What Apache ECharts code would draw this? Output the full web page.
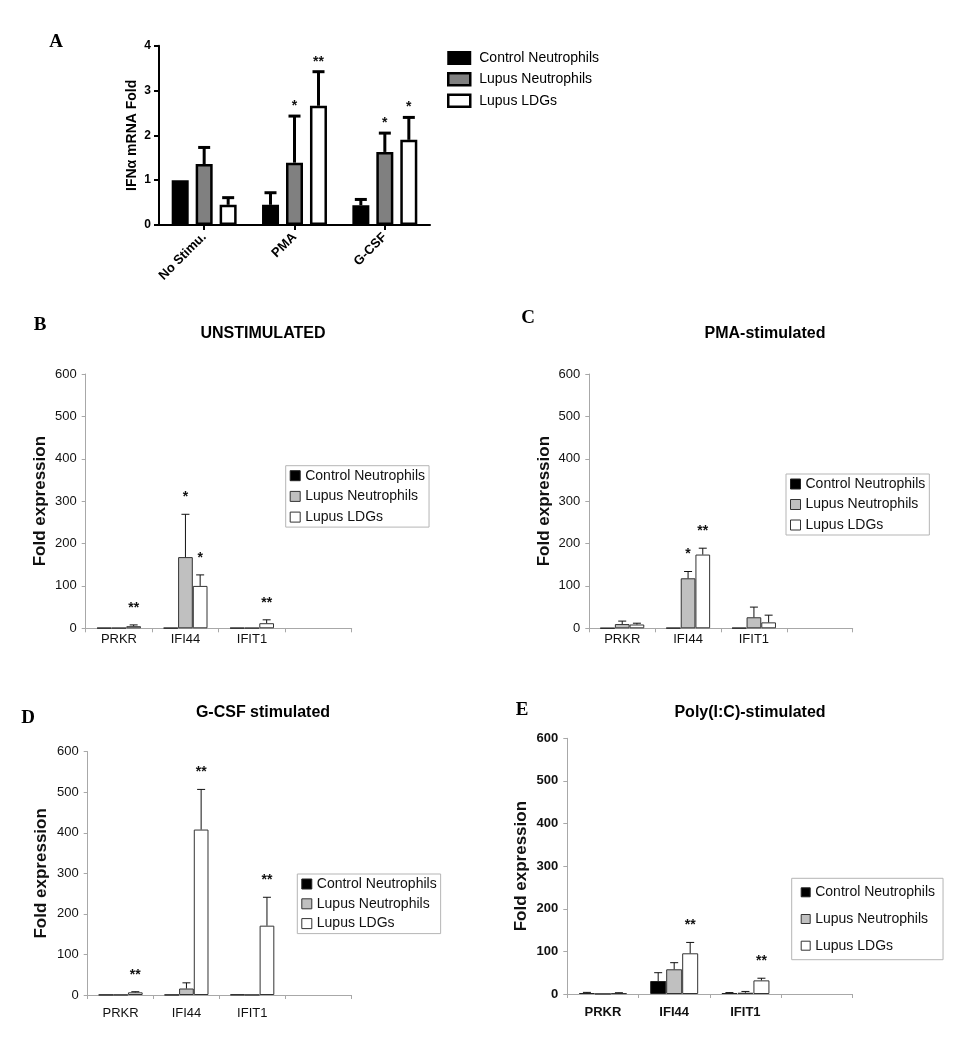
<!DOCTYPE html>
<html><head><meta charset="utf-8">
<script src="https://cdn.jsdelivr.net/npm/echarts@6/dist/echarts.min.js"></script>
<style>html,body{margin:0;padding:0;background:#fff}#c{width:966px;height:1050px}</style>
</head><body><div id="c"></div>
<script>
// ---------- DATA ----------
const groupNames = ['Control Neutrophils', 'Lupus Neutrophils', 'Lupus LDGs'];

// Panel A: IFNα mRNA fold
const catsA = ['No Stimu.', 'PMA', 'G-CSF'];
const ticksA = [0, 1, 2, 3, 4];
const aControl = [1.0, 0.45, 0.44];
const aControlErr = [0, 0.27, 0.13];
const aLupus = [1.36, 1.39, 1.63];
const aLupusErr = [0.37, 1.04, 0.42];
const aLDG = [0.45, 2.66, 1.90];
const aLDGErr = [0.16, 0.76, 0.50];
const aControlSig = ['', '', ''];
const aLupusSig = ['', '*', '*'];
const aLDGSig = ['', '**', '*'];

// Panels B-E: fold expression
const genes = ['PRKR', 'IFI44', 'IFIT1', ''];
const ticksFold = [0, 100, 200, 300, 400, 500, 600];

// B: UNSTIMULATED
const bControl = [1, 1, 1];
const bControlErr = [0, 0, 0];
const bLupus = [1, 168, 1];
const bLupusErr = [0, 101, 0];
const bLDG = [5, 100, 12];
const bLDGErr = [3, 26, 8];
const bControlSig = ['', '', ''];
const bLupusSig = ['', '*', ''];
const bLDGSig = ['**', '*', '**'];

// C: PMA-stimulated
const cControl = [0.5, 1, 1];
const cControlErr = [0, 0, 0];
const cLupus = [10, 118, 26];
const cLupusErr = [7, 16, 24];
const cLDG = [9, 174, 14];
const cLDGErr = [3, 15, 17];
const cControlSig = ['', '', ''];
const cLupusSig = ['', '*', ''];
const cLDGSig = ['', '**', ''];

// D: G-CSF stimulated
const dControl = [0.5, 0.5, 1];
const dControlErr = [0, 0, 0];
const dLupus = [0.5, 16, 0.5];
const dLupusErr = [0, 14, 0];
const dLDG = [6.6, 408, 171];
const dLDGErr = [1.5, 99, 70];
const dControlSig = ['', '', ''];
const dLupusSig = ['', '', ''];
const dLDGSig = ['**', '**', '**'];

// E: Poly(I:C)-stimulated
const eControl = [2.3, 30.5, 2.3];
const eControlErr = [1.5, 19.5, 1];
const eLupus = [0.5, 58, 3];
const eLupusErr = [0, 15.5, 3];
const eLDG = [2, 95.5, 32];
const eLDGErr = [1, 25.5, 5];
const eControlSig = ['', '', ''];
const eLupusSig = ['', '', ''];
const eLDGSig = ['', '**', '**'];

// ---------- STYLE / BUILD ----------
const SANS = 'Liberation Sans, Arial, sans-serif';
const SERIF = 'Liberation Serif, Times New Roman, serif';
const GRAY_AXIS = '#a8a8a8';

const styleA = {
  bw: 17, gapPct: '41%', step: 24, cap: 6, lw: 3, color: '#000', starOff: 3, starFont: 'bold 14px ' + SANS,
  items: [
    { color: '#000', borderColor: '#000', borderWidth: 2 },
    { color: '#808080', borderColor: '#000', borderWidth: 2.5 },
    { color: '#fff', borderColor: '#000', borderWidth: 2.5 }
  ]
};
function styleFold(bw) {
  return {
    bw: bw, gapPct: '0%', step: bw, cap: 4, lw: 1, color: '#111', starOff: 10, starFont: 'bold 14px ' + SANS,
    items: [
      { color: '#000', borderColor: '#222', borderWidth: 1 },
      { color: '#c0c0c0', borderColor: '#333', borderWidth: 1 },
      { color: '#fff', borderColor: '#333', borderWidth: 1 }
    ]
  };
}

function barSeries(k, gi, vals, st) {
  return {
    type: 'bar', name: groupNames[gi], xAxisIndex: k, yAxisIndex: k, data: vals,
    barWidth: st.bw, barGap: st.gapPct, itemStyle: st.items[gi], silent: true
  };
}
function errSeries(k, gi, means, errs, sigs, st) {
  return {
    type: 'custom', xAxisIndex: k, yAxisIndex: k, z: 10, silent: true,
    data: means.map((m, i) => [i, m, errs[i]]),
    renderItem: function (params, api) {
      const i = api.value(0), m = api.value(1), e = api.value(2);
      const p0 = api.coord([i, m]);
      const x = p0[0] + (gi - 1) * st.step;
      const yTop = api.coord([i, m + e])[1];
      const ch = [];
      if (e > 0) {
        ch.push({ type: 'line', shape: { x1: x, y1: p0[1], x2: x, y2: yTop }, style: { stroke: st.color, lineWidth: st.lw } });
        ch.push({ type: 'line', shape: { x1: x - st.cap, y1: yTop, x2: x + st.cap, y2: yTop }, style: { stroke: st.color, lineWidth: st.lw } });
      }
      const s = sigs[params.dataIndex];
      if (s) ch.push({ type: 'text', x: x, y: yTop - st.starOff, style: { text: s, fill: '#111', font: st.starFont, align: 'center', verticalAlign: 'bottom' } });
      return { type: 'group', children: ch };
    }
  };
}
function panelSeries(k, means, errs, sigs, st) {
  const out = [];
  for (let g = 0; g < 3; g++) out.push(barSeries(k, g, means[g], st));
  for (let g = 0; g < 3; g++) out.push(errSeries(k, g, means[g], errs[g], sigs[g], st));
  return out;
}

const grids = [
  { left: 159, top: 45.7, width: 271, height: 179.3 },
  { left: 85.7, top: 374, width: 266, height: 254.3 },
  { left: 589.3, top: 374, width: 263.4, height: 254.3 },
  { left: 87.7, top: 751.7, width: 263.3, height: 243.3 },
  { left: 567.3, top: 738.3, width: 285, height: 255.7 }
];

function foldX(k, margin, bold) {
  return {
    type: 'category', gridIndex: k, data: genes,
    axisLine: { lineStyle: { color: GRAY_AXIS, width: 1 } },
    axisTick: { show: true, length: 4, lineStyle: { color: GRAY_AXIS } },
    axisLabel: { fontSize: 13, fontFamily: SANS, color: '#111', margin: margin, fontWeight: bold ? 'bold' : 'normal', interval: 0 }
  };
}
function foldY(k, bold, gap) {
  return {
    type: 'value', gridIndex: k, min: ticksFold[0], max: ticksFold[ticksFold.length - 1], interval: ticksFold[1] - ticksFold[0],
    axisLine: { show: true, lineStyle: { color: GRAY_AXIS, width: 1 } },
    axisTick: { show: true, length: 4, lineStyle: { color: GRAY_AXIS } },
    axisLabel: { fontSize: 13, fontFamily: SANS, color: '#111', margin: 9, fontWeight: bold ? 'bold' : 'normal' },
    splitLine: { show: false },
    name: 'Fold expression', nameLocation: 'middle', nameRotate: 90, nameGap: gap,
    nameTextStyle: { fontSize: 17, fontWeight: 'bold', fontFamily: SANS, color: '#111' }
  };
}

const xAxes = [
  {
    type: 'category', gridIndex: 0, data: catsA,
    axisLine: { lineStyle: { color: '#000', width: 2 } },
    axisTick: { show: true, alignWithLabel: true, length: 5, lineStyle: { color: '#000', width: 2 } },
    axisLabel: { rotate: 45, fontSize: 13, fontWeight: 'bold', fontFamily: SANS, color: '#000', margin: 10, interval: 0 }
  },
  foldX(1, 5, false), foldX(2, 5, false), foldX(3, 12, false), foldX(4, 12, true)
];
const yAxes = [
  {
    type: 'value', gridIndex: 0, min: ticksA[0], max: ticksA[ticksA.length - 1], interval: ticksA[1] - ticksA[0],
    axisLine: { show: true, lineStyle: { color: '#000', width: 2 } },
    axisTick: { show: true, length: 5, lineStyle: { color: '#000', width: 2 } },
    axisLabel: { fontSize: 12, fontWeight: 'bold', fontFamily: SANS, color: '#000', margin: 8 },
    splitLine: { show: false },
    name: 'IFNα mRNA Fold', nameLocation: 'middle', nameRotate: 90, nameGap: 20,
    nameTextStyle: { fontSize: 14, fontWeight: 'bold', fontFamily: SANS, color: '#000' }
  },
  foldY(1, false, 37), foldY(2, false, 36), foldY(3, false, 37.5), foldY(4, true, 37)
];

function legendData(st) {
  return groupNames.map((n, i) => ({ name: n, itemStyle: st.items[i] }));
}
const stF = styleFold(14.7);
function boxLegend(left, top, pad, gap, isz) {
  return {
    orient: 'vertical', left: left, top: top, padding: pad, itemGap: gap, itemWidth: isz, itemHeight: isz,
    icon: 'rect', selectedMode: false, backgroundColor: '#fff', borderColor: '#b5b5b5', borderWidth: 1,
    textStyle: { fontSize: 14, fontFamily: SANS, color: '#111' },
    data: legendData(stF)
  };
}

const legends = [
  {
    orient: 'vertical', left: 447, top: 51, padding: 0, itemGap: 7, itemWidth: 22, itemHeight: 12,
    icon: 'rect', selectedMode: false,
    textStyle: { fontSize: 14, fontFamily: SANS, color: '#000', padding: [0, 0, 0, 4] },
    data: legendData(styleA)
  },
  boxLegend(285.7, 465.7, [3, 4, 3, 4], 6.7, 10),
  boxLegend(786, 474, [3, 4, 3, 4], 6.5, 10),
  boxLegend(297.3, 874, [3, 4, 3, 4], 5.8, 10),
  boxLegend(791.7, 878.3, [7, 8, 7, 9], 12.7, 9)
];

const series = [].concat(
  panelSeries(0, [aControl, aLupus, aLDG], [aControlErr, aLupusErr, aLDGErr], [aControlSig, aLupusSig, aLDGSig], styleA),
  panelSeries(1, [bControl, bLupus, bLDG], [bControlErr, bLupusErr, bLDGErr], [bControlSig, bLupusSig, bLDGSig], styleFold(14.7)),
  panelSeries(2, [cControl, cLupus, cLDG], [cControlErr, cLupusErr, cLDGErr], [cControlSig, cLupusSig, cLDGSig], styleFold(14.7)),
  panelSeries(3, [dControl, dLupus, dLDG], [dControlErr, dLupusErr, dLDGErr], [dControlSig, dLupusSig, dLDGSig], styleFold(14.7)),
  panelSeries(4, [eControl, eLupus, eLDG], [eControlErr, eLupusErr, eLDGErr], [eControlSig, eLupusSig, eLDGSig], styleFold(16))
);

function label(text, x, y, font) {
  return { type: 'text', x: x, y: y, silent: true, style: { text: text, font: font, fill: '#000', align: 'center', verticalAlign: 'middle' } };
}
const letterFont = 'bold 19px ' + SERIF;
const titleFont = 'bold 16px ' + SANS;
const graphics = [
  label('A', 56, 42, letterFont),
  label('B', 40, 325, letterFont),
  label('C', 528, 318, letterFont),
  label('D', 28, 718, letterFont),
  label('E', 522, 710, letterFont),
  label('UNSTIMULATED', 263, 334, titleFont),
  label('PMA-stimulated', 765, 334, titleFont),
  label('G-CSF stimulated', 263, 713, titleFont),
  label('Poly(I:C)-stimulated', 750, 713, titleFont)
];

const chart = echarts.init(document.getElementById('c'), null, { renderer: 'canvas' });
chart.setOption({
  animation: false,
  backgroundColor: '#fff',
  grid: grids,
  xAxis: xAxes,
  yAxis: yAxes,
  legend: legends,
  graphic: graphics,
  series: series
});
</script>
</body></html>
